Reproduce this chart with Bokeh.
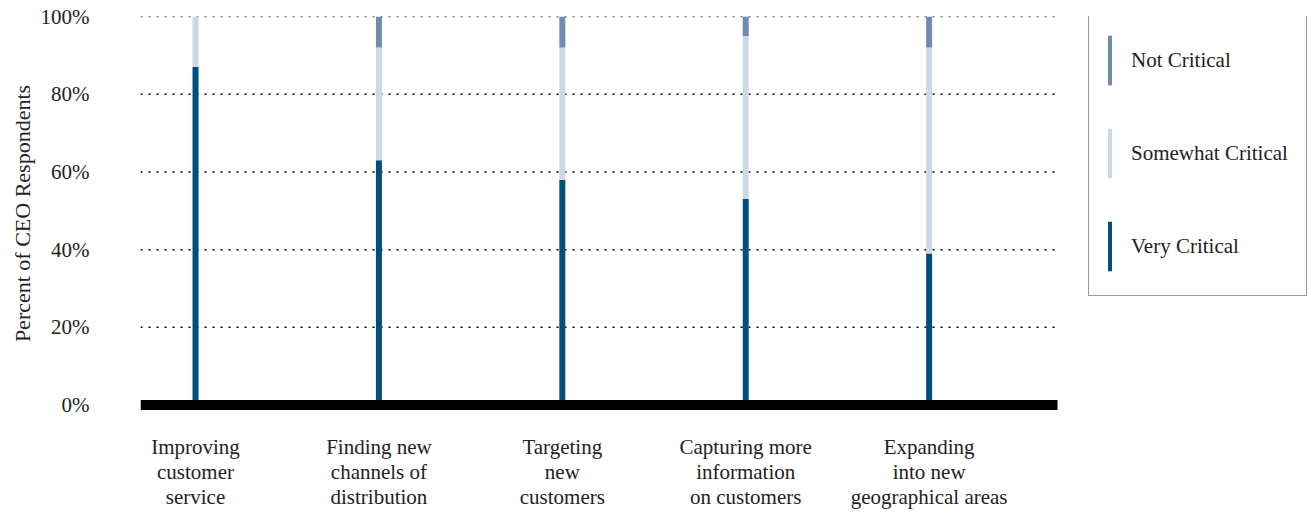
from bokeh.plotting import figure
from bokeh.models import Range1d, Legend, LegendItem, FixedTicker, ColumnDataSource
from bokeh.embed import file_html
from bokeh.resources import INLINE

categories = ["Improving\ncustomer\nservice",
              "Finding new\nchannels of\ndistribution",
              "Targeting\nnew\ncustomers",
              "Capturing more\ninformation\non customers",
              "Expanding\ninto new\ngeographical areas"]
very_critical = [87, 63, 58, 53, 39]
somewhat_critical = [13, 29, 34, 42, 53]
not_critical = [0, 8, 8, 5, 8]
y_ticks = [0, 20, 40, 60, 80, 100]
y_tick_labels = ["0%", "20%", "40%", "60%", "80%", "100%"]

C_VERY = "#004F80"
C_SOME = "#CFD6E6"
C_NOT = "#7289B0"
FONT = "Liberation Serif"

xs = list(range(len(categories)))
b1 = [0] * len(xs)
t1 = very_critical
b2 = t1
t2 = [a + b for a, b in zip(t1, somewhat_critical)]
b3 = t2
t3 = [a + b for a, b in zip(t2, not_critical)]
src = ColumnDataSource(dict(x=xs, b1=b1, t1=t1, b2=b2, t2=t2, b3=b3, t3=t3))

X0, X1 = -0.3, 4.7
FW = 1167
p = figure(frame_width=FW, frame_height=394, output_backend="svg", toolbar_location=None,
           x_range=Range1d(X0, X0 + FW / 183.4), y_range=Range1d(-1.4, 100),
           min_border_left=140, min_border_top=16, min_border_right=0, min_border_bottom=0)
p.outline_line_color = None
p.background_fill_color = "white"
p.border_fill_color = "white"
p.xgrid.grid_line_color = None
p.ygrid.grid_line_color = None

# dotted gridlines limited to the plotting area
gy = y_ticks[1:]
p.segment(x0=[X0] * len(gy), x1=[X1] * len(gy), y0=gy, y1=gy,
          line_color="black", line_width=1.5, line_dash="2 6")

W = 0.0327
r1 = p.vbar(x="x", bottom="b1", top="t1", width=W, source=src, fill_color=C_VERY, line_color=None)
r2 = p.vbar(x="x", bottom="b2", top="t2", width=W, source=src, fill_color=C_SOME, line_color=None)
r3 = p.vbar(x="x", bottom="b3", top="t3", width=W, source=src, fill_color=C_NOT, line_color=None)

# thick base line at 0
p.segment(x0=[X0], x1=[X1], y0=[0], y1=[0], line_color="black", line_width=10, line_cap="butt")

# y axis
p.yaxis.ticker = FixedTicker(ticks=y_ticks)
p.yaxis.major_label_overrides = {t: l for t, l in zip(y_ticks, y_tick_labels)}
p.yaxis.axis_line_color = None
p.yaxis.major_tick_line_color = None
p.yaxis.minor_tick_line_color = None
p.yaxis.major_label_standoff = 45
p.yaxis.major_label_text_font = FONT
p.yaxis.major_label_text_font_size = "21px"
p.yaxis.major_label_text_color = "#222222"
p.yaxis.axis_label = "Percent of CEO Respondents"
p.yaxis.axis_label_text_font = FONT
p.yaxis.axis_label_text_font_size = "22px"
p.yaxis.axis_label_text_font_style = "normal"
p.yaxis.axis_label_text_color = "#222222"
p.yaxis.axis_label_standoff = 3

# x axis
p.xaxis.ticker = FixedTicker(ticks=xs)
p.xaxis.major_label_overrides = {x: c for x, c in zip(xs, categories)}
p.xaxis.axis_line_color = None
p.xaxis.major_tick_line_color = None
p.xaxis.minor_tick_line_color = None
p.xaxis.major_label_standoff = 18
p.xaxis.major_label_text_font = FONT
p.xaxis.major_label_text_font_size = "21px"
p.xaxis.major_label_text_color = "#222222"
p.xaxis.major_label_text_line_height = 1.05

legend = Legend(items=[LegendItem(label="Not Critical", renderers=[r3]),
                       LegendItem(label="Somewhat Critical", renderers=[r2]),
                       LegendItem(label="Very Critical", renderers=[r1])],
                location=(948, 114), margin=0, padding=18, spacing=31,
                glyph_width=5, glyph_height=62, label_standoff=19,
                label_text_font=FONT, label_text_font_size="21px", label_text_color="#222222",
                border_line_color="#333333", border_line_width=1.2,
                background_fill_alpha=1.0)
p.add_layout(legend, "center")

open("out.html", "w").write(file_html(p, INLINE))
